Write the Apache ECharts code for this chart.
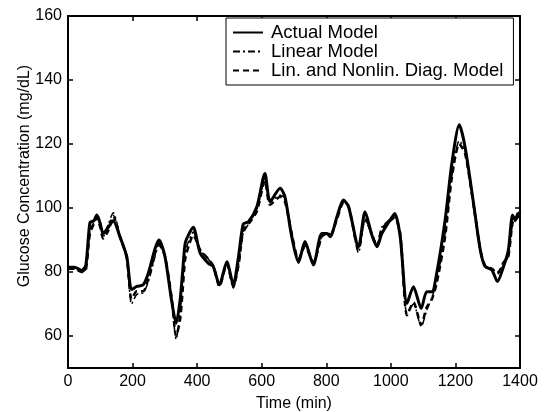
<!DOCTYPE html>
<html>
<head>
<meta charset="utf-8">
<script src="https://cdn.jsdelivr.net/npm/echarts@6/dist/echarts.min.js"></script>
<style>
html,body{margin:0;padding:0;background:#fff;}
#chart{width:549px;height:412px;}
</style>
</head>
<body>
<div id="chart"></div>
<script>
const timeMin = [0,20,42,55,68,80,89,100,109,125,140,161,182,197,213,233,249,270,282,300,321,335,347,355,363,375,388,409,435,450,469,492,512,528,543,559,585,610,626,657,672,693,714,734,760,786,802,812,833,853,869,900,920,941,957,972,998,1012,1029,1050,1070,1094,1111,1127,1142,1168,1189,1212,1230,1256,1277,1292,1313,1330,1349,1364,1377,1385,1400];
const actualModel = [81.5,81.5,80.5,82,95.5,96,97.8,95,92,94,96,91,84.8,74.5,75.5,76,79.7,87.4,90,85,71,64,71,80,89,92,94,86,82.7,81.7,76,83.2,76,84.8,95,95.7,100.4,110.8,102,106.2,103.5,91,83,89.5,82.2,92,92,91,97.3,102.5,100.4,87.9,98.8,91.6,87.9,92,96.3,98.3,91,70.2,75.4,68.6,73.8,73.8,79.6,96.2,114,126,119,101.5,86.9,81.7,80.6,77,81.7,86.9,97.8,96.2,98.8];
const linearModel = [81,81,80,81,93,95.5,98,96,91,95,98.5,91.5,84,70,73,73.5,77,85,89,85,71,59,67,76,86,90,92.5,87,84,82,76.5,82.5,75,82,92,95,99.5,109,102,104,103,92,84,88.5,83,91,92,92,96.5,102,101,86,96,92,88.5,94,96.5,97.5,92,67,70,63,68,72,77,92,110,121,118,102,87.5,82,81,80,82.5,85,95,96,98];
const diagModel = [81,81,80,80.5,92,95,97,94,90.5,93,97.5,91,84.5,71.5,74,74,78,86,88.5,85,72,60,65,74,84,88.5,91.5,87,84,82,75.5,82.5,75.5,82,93,95,99,108.5,101,103.5,102,92,84,88,83,91,92,91.5,96.5,101.5,100.5,87,97,92,88,93.5,96,97,92,66.5,70.5,63.5,69,71.5,76.5,91,109.5,120,117,101,87,82,81,79.5,83,85,95.5,96.5,100];
const xTicks = [0,200,400,600,800,1000,1200,1400];
const yTicks = [60,80,100,120,140,160];

const FONT = 'Liberation Sans, Arial, Helvetica, sans-serif';
const pair = (xs, ys) => xs.map((t, i) => [t, ys[i]]);

const chart = echarts.init(document.getElementById('chart'), null, {renderer: 'canvas'});
const lineAx = {show: true, onZero: false, lineStyle: {color: '#000', width: 2}};
const tickX = {show: true, inside: true, length: 5, customValues: xTicks, lineStyle: {color: '#000', width: 1.5}};
const tickY = {show: true, inside: true, length: 5, customValues: yTicks, lineStyle: {color: '#000', width: 1.5}};
chart.setOption({
  animation: false,
  backgroundColor: '#fff',
  textStyle: {fontFamily: FONT, color: '#000'},
  grid: {left: 68, right: 29, top: 16, bottom: 44, containLabel: false, outerBoundsMode: 'none'},
  legend: {
    orient: 'vertical',
    left: 226, top: 18,
    backgroundColor: '#fff',
    borderColor: '#000', borderWidth: 1,
    padding: [5, 10, 5, 6],
    itemGap: 0,
    itemWidth: 30, itemHeight: 18,
    itemStyle: {opacity: 0},
    textStyle: {fontFamily: FONT, fontSize: 18.5, lineHeight: 18.5, color: '#000', padding: [0, 0, 0, 3]},
    data: ['Actual Model', 'Linear Model', 'Lin. and Nonlin. Diag. Model']
  },
  xAxis: [
    {
      type: 'value', min: 0, max: 1400, position: 'bottom',
      axisLine: lineAx, axisTick: tickX, splitLine: {show: false},
      name: 'Time (min)', nameLocation: 'middle', nameGap: 28, nameMoveOverlap: false,
      nameTextStyle: {fontFamily: FONT, fontSize: 16, color: '#000'},
      axisLabel: {color: '#000', fontFamily: FONT, fontSize: 16, margin: 6, customValues: xTicks,
        formatter: v => String(v)}
    },
    {
      type: 'value', min: 0, max: 1400, position: 'top',
      axisLine: lineAx, axisTick: tickX, splitLine: {show: false},
      axisLabel: {show: false}
    }
  ],
  yAxis: [
    {
      type: 'value', min: 50, max: 160, position: 'left',
      axisLine: lineAx, axisTick: tickY, splitLine: {show: false},
      name: 'Glucose Concentration (mg/dL)', nameLocation: 'middle', nameGap: 35, nameMoveOverlap: false,
      nameTextStyle: {fontFamily: FONT, fontSize: 16, color: '#000', padding: [0, 0, 0, 32]},
      axisLabel: {color: '#000', fontFamily: FONT, fontSize: 16, margin: 6, customValues: yTicks,
        formatter: v => String(v)}
    },
    {
      type: 'value', min: 50, max: 160, position: 'right',
      axisLine: lineAx, axisTick: tickY, splitLine: {show: false},
      axisLabel: {show: false}
    }
  ],
  series: [
    {name: 'Actual Model', type: 'line', data: pair(timeMin, actualModel), symbol: 'none', smooth: 0.25,
      lineStyle: {color: '#000', width: 3, type: 'solid'}, itemStyle: {color: '#000'}, z: 3},
    {name: 'Linear Model', type: 'line', data: pair(timeMin, linearModel), symbol: 'none', smooth: 0.25,
      lineStyle: {color: '#000', width: 1.5, type: [7, 3, 2, 3]}, itemStyle: {color: '#000'}, z: 4},
    {name: 'Lin. and Nonlin. Diag. Model', type: 'line', data: pair(timeMin, diagModel), symbol: 'none', smooth: 0.25,
      lineStyle: {color: '#000', width: 2.5, type: [6, 4]}, itemStyle: {color: '#000'}, z: 5}
  ]
});
</script>
</body>
</html>
